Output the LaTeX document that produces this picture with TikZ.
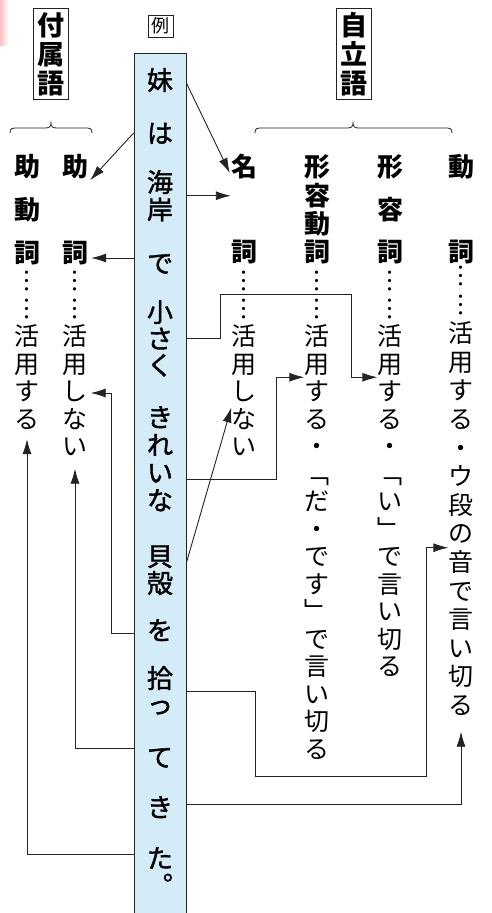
\documentclass[tikz,border=0pt]{standalone}
\usepackage{fontspec}
\newfontfamily\jp{Noto Sans CJK JP}
\newfontfamily\jpm{Noto Sans CJK JP}[FakeBold=1.5]
\usetikzlibrary{arrows.meta,calc,fit}
\definecolor{boxblue}{RGB}{212,235,248}
\definecolor{linec}{RGB}{35,35,35}
\newcommand\vcol[6]{%
  \foreach \ch [count=\k from 0] in {#6} {
    \node[#1] (#2-\k) at ({#3},{#4+\k*(#5)}) {\ch};
  }}
\tikzset{
  sent/.style={inner sep=0pt, font=\jpm\fontsize{26}{26}\selectfont, text height=22.9pt, text depth=3.1pt},
  head/.style={inner sep=0pt, font=\jp\bfseries\fontsize{26}{26}\selectfont, text height=22.9pt, text depth=3.1pt},
  body/.style={inner sep=0pt, font=\jp\fontsize{25}{25}\selectfont, text height=22pt, text depth=3pt},
  title/.style={inner sep=0pt, font=\jp\bfseries\fontsize{27}{27}\selectfont, text height=23.8pt, text depth=3.2pt},
  frame/.style={draw=linec, line width=0.7pt, inner xsep=3.5pt, inner ysep=3pt},
  arr/.style={draw=linec, line width=0.9pt, -{Latex[length=15pt,width=9pt]}},
  bracec/.style={draw=linec, line width=0.8pt},
}
\begin{document}
\begin{tikzpicture}[x=1pt,y=-1pt]
\useasboundingbox (0,0) rectangle (491,913);
\clip (0,0) rectangle (491,913);
\fill[white] (0,0) rectangle (491,913);
\shade[left color=red!25, right color=white] (0,0) rectangle (8,45);

% sentence box
\node[draw=linec, line width=0.8pt, fill=boxblue, minimum width=52pt, minimum height=900pt, anchor=north, inner sep=0pt] (box) at (160,53) {};

% sentence words
\vcol{sent}{w0}{160}{80}{27}{妹}
\vcol{sent}{w1}{160}{133}{27}{は}
\vcol{sent}{w2}{160}{182}{27.5}{海,岸}
\vcol{sent}{w3}{160}{263}{27}{で}
\vcol{sent}{w4}{160}{312}{26.5}{小,さ,く}
\vcol{sent}{w5}{160}{417}{27.7}{き,れ,い,な}
\vcol{sent}{w6}{160}{556}{27}{貝,殻}
\vcol{sent}{w7}{160}{630}{27}{を}
\vcol{sent}{w8}{160}{678}{26}{拾,っ}
\vcol{sent}{w9}{160}{757}{27}{て}
\vcol{sent}{w10}{160}{807}{27}{き}
\vcol{sent}{w11}{160}{858}{27}{た,︒}

% titles
\vcol{title}{tf}{51}{25}{29}{付,属,語}
\node[frame, fit=(tf-0)(tf-2)] (fuzoku) {};
\vcol{title}{tj}{354}{25}{29}{自,立,語}
\node[frame, fit=(tj-0)(tj-2)] (jiritsu) {};
\node[draw=linec, line width=0.6pt, font=\jp\fontsize{18}{18}\selectfont, inner xsep=3.5pt, inner ysep=2pt, text height=15.8pt, text depth=2.2pt] (rei) at (160.5,26) {例};

% braces
\draw[bracec] (10,133) .. controls (10,128) and (12,128) .. (18,128) -- (45,128) .. controls (49,128) and (51,127) .. (51,123) .. controls (51,127) and (53,128) .. (57,128) -- (84,128) .. controls (90,128) and (92,128) .. (92,133);
\draw[bracec] (255,133) .. controls (255,128) and (257,128) .. (263,128) -- (347,128) .. controls (351,128) and (353,127) .. (353,123) .. controls (353,127) and (355,128) .. (359,128) -- (444,128) .. controls (450,128) and (452,128) .. (452,133);

% part-of-speech headers
\vcol{head}{hjd}{27}{167}{43}{助,動,詞}
\vcol{head}{hjo}{75}{167}{86}{助,詞}
\vcol{head}{hm}{244}{167}{85}{名,詞}
\vcol{head}{hkd}{317}{167}{28.3}{形,容,動,詞}
\vcol{head}{hk}{390}{167}{42.5}{形,容,詞}
\vcol{head}{hd}{461}{167}{85}{動,詞}

% descriptions
\vcol{body}{jd}{27}{281}{27.5}{︙,︙,活,用,す,る}
\vcol{body}{jo}{75}{281}{27.5}{︙,︙,活,用,し,な,い}
\vcol{body}{m}{244}{281}{27.5}{︙,︙,活,用,し,な,い}
\vcol{body}{kd}{317}{281}{27.5}{︙,︙,活,用,す,る,・,﹁,だ,・,で,す,﹂,で,言,い,切,る}
\vcol{body}{k}{390}{281}{27.5}{︙,︙,活,用,す,る,・,﹁,い,﹂,で,言,い,切,る}
\vcol{body}{d}{461}{276}{28.6}{︙,︙,活,用,す,る,・,ウ,段,の,音,で,言,い,切,る}

% connectors
\draw[arr] ($(box.east |- w0-0)+(0,3)$) -- ($(hm-0.west)+(-1,6)$);
\draw[arr] (box.west |- w1-0) -- ($(hjo-0.south east)+(2,0)$);
\coordinate (c3) at ($(w2-0)!.5!(w2-1)$);
\draw[arr] (box.east |- c3) -- (hm-0.west |- c3);
\coordinate (c4) at ($(hjo-1)+(0,5)$);
\draw[arr] (box.west |- c4) -- ($(hjo-1.east |- c4)+(3,0)$);
\coordinate (c5) at ($(k-3.west)!.5!(k-4.west)$);
\draw[arr] (box.east |- w4-1) -| (220,294) -| ($(c5)+(-26,0)$) -- (c5);
\coordinate (c6s) at ($(w5-2)!.25!(w5-3)$);
\coordinate (c6) at ($(kd-3.west)!.5!(kd-4.west)$);
\draw[arr] (box.east |- c6s) -| ($(c6)+(-28,0)$) -- (c6);
\coordinate (c7s) at ($(w6-0)!.25!(w6-1)$);
\coordinate (c7) at ($(m-4.west)!.6!(m-5.west)$);
\draw[arr] (box.east |- c7s) -- (c7);
\coordinate (c8) at ($(jo-4.east)+(3,2)$);
\draw[arr] ($(box.west |- w7-0)+(0,3)$) -| ($(c8)+(21,0)$) -- (c8);
\coordinate (c9s) at ($(w8-0)!.5!(w8-1)$);
\coordinate (c9) at ($(d-9.west)!.5!(d-10.west)$);
\draw[arr] (box.east |- c9s) -| (255,776) -| ($(c9)+(-22,0)$) -- (c9);
\coordinate (c10) at ($(jo-6.south)+(0,10)$);
\draw[arr] ($(box.west |- w9-0)+(0,-9)$) -| (c10);
\coordinate (c11) at ($(d-15.south)+(0,14)$);
\draw[arr] ($(box.east |- w10-0)+(0,-3)$) -| (c11);
\coordinate (c12) at ($(jd-5.south)+(0,8)$);
\draw[arr] ($(box.west |- w11-0)+(0,-4)$) -| (c12);
\end{tikzpicture}
\end{document}
